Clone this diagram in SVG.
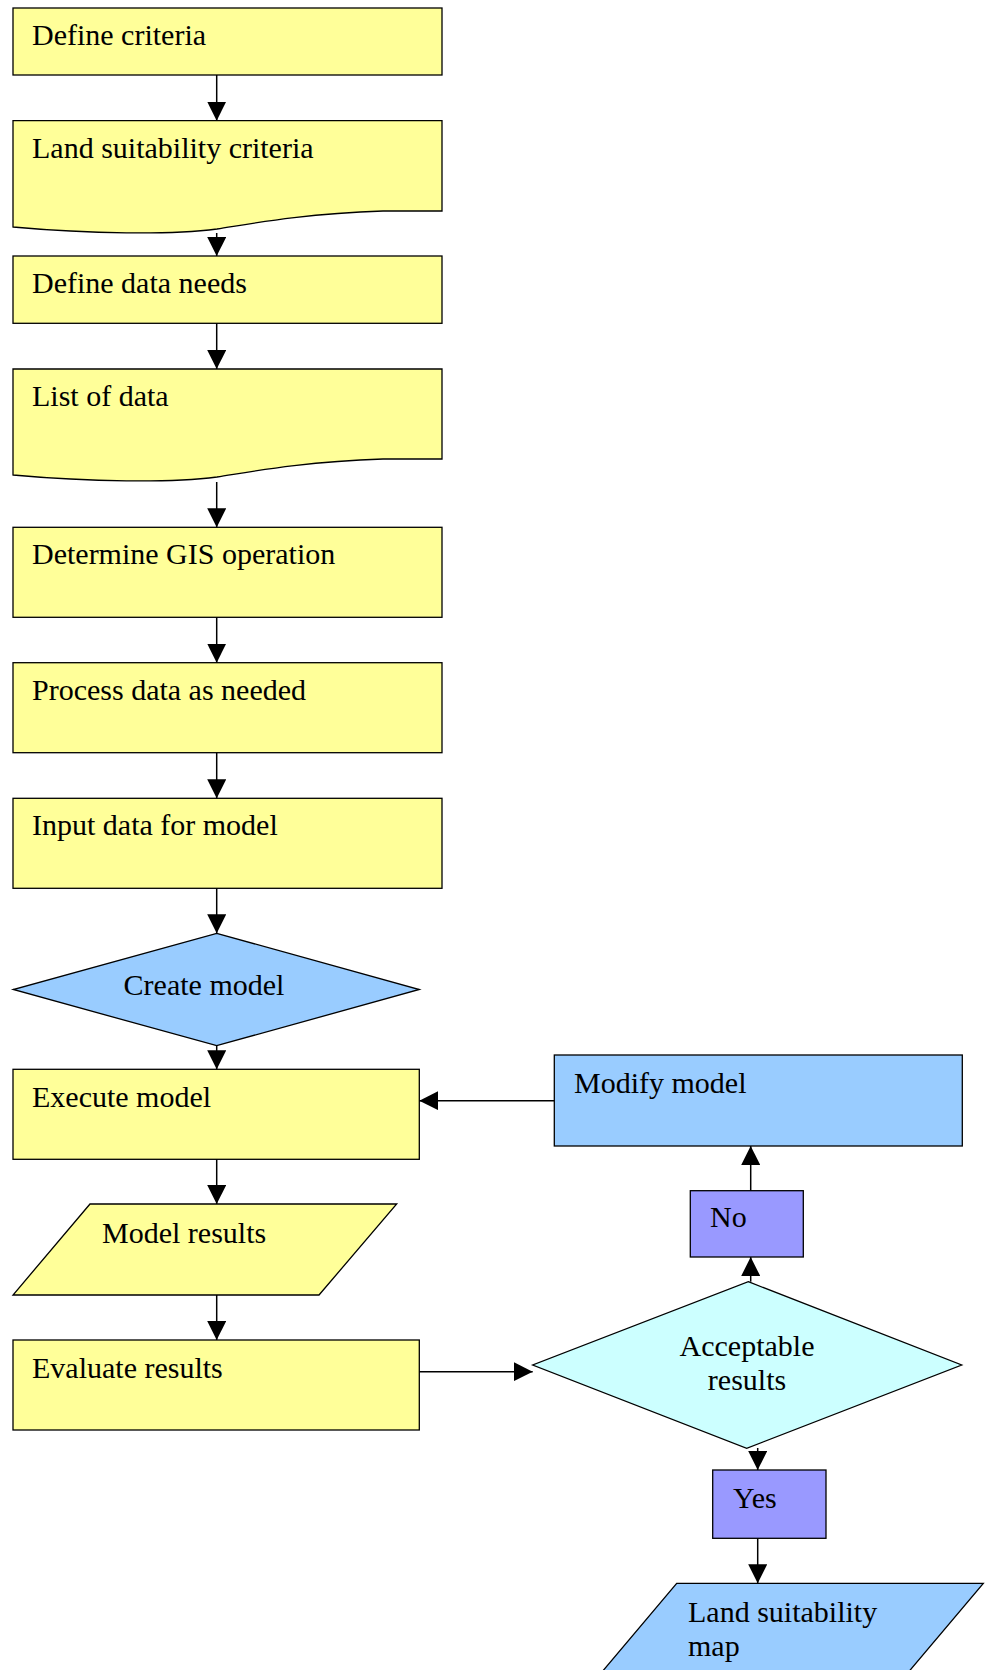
<svg xmlns="http://www.w3.org/2000/svg" width="987" height="1670" viewBox="0 0 987 1670">
<style>
.n{stroke:#000;stroke-width:1.3}
.y{fill:#FFFF99}.b{fill:#99CCFF}.c{fill:#CCFFFF}.p{fill:#9999FF}
text{font-family:"Liberation Serif","Times New Roman",serif;font-size:30px;fill:#000}
.e line{stroke:#000;stroke-width:1.5}
</style>
<defs>
<marker id="ah" markerWidth="19" markerHeight="19" viewBox="0 0 19 19" refX="19" refY="9.5" orient="auto" markerUnits="userSpaceOnUse">
<path d="M0,0 L19,9.5 L0,19 Z" fill="#000"/>
</marker>
</defs>
<rect width="987" height="1670" fill="#fff"/>
<g id="n1"><rect class="n y" x="13" y="8" width="429" height="67"/><text x="32" y="45">Define criteria</text></g>
<g id="n2"><path class="n y" d="M13,120.7 H442 V211 L383,211 C300,214 250,224 217,229 C170,235 90,234 13,227 Z"/><text x="32" y="158">Land suitability criteria</text></g>
<g id="n3"><rect class="n y" x="13" y="256" width="429" height="67.3"/><text x="32" y="293">Define data needs</text></g>
<g id="n4"><path class="n y" d="M13,369 H442 V459 L383,459 C300,462 250,472 217,477 C170,483 90,482 13,475 Z"/><text x="32" y="406">List of data</text></g>
<g id="n5"><rect class="n y" x="13" y="527.3" width="429" height="90"/><text x="32" y="564">Determine GIS operation</text></g>
<g id="n6"><rect class="n y" x="13" y="662.7" width="429" height="90"/><text x="32" y="700">Process data as needed</text></g>
<g id="n7"><rect class="n y" x="13" y="798.3" width="429" height="90"/><text x="32" y="835">Input data for model</text></g>
<g id="n8"><path class="n b" d="M216.7,933.3 L419.3,989.5 L216.7,1045.7 L13.3,989.5 Z"/><text x="204" y="995" text-anchor="middle">Create model</text></g>
<g id="n9"><rect class="n y" x="13" y="1069.3" width="406.3" height="90"/><text x="32" y="1107">Execute model</text></g>
<g id="n10"><path class="n y" d="M90,1204 H396.7 L319,1295 H13 Z"/><text x="102" y="1243">Model results</text></g>
<g id="n11"><rect class="n y" x="13" y="1340" width="406.3" height="90"/><text x="32" y="1378">Evaluate results</text></g>
<g id="n12"><rect class="n b" x="554.3" y="1055" width="408" height="91"/><text x="574" y="1093">Modify model</text></g>
<g id="n13"><rect class="n p" x="690.3" y="1190.7" width="113" height="66.3"/><text x="710" y="1227">No</text></g>
<g id="n14"><path class="n c" d="M748.3,1281.7 L961.7,1365 L746.7,1448.3 L532.7,1365 Z"/><text x="747" y="1356" text-anchor="middle">Acceptable</text><text x="747" y="1390" text-anchor="middle">results</text></g>
<g id="n15"><rect class="n p" x="712.7" y="1470" width="113.3" height="68.3"/><text x="733" y="1508">Yes</text></g>
<g id="n16"><path class="n b" d="M676.7,1583.3 H983.3 L906,1675 H599.4 Z"/><text x="688" y="1622">Land suitability</text><text x="688" y="1656">map</text></g>
<g id="edges" class="e">
<line x1="216.7" y1="75" x2="216.7" y2="120.7" marker-end="url(#ah)"/>
<line x1="216.7" y1="233" x2="216.7" y2="256" marker-end="url(#ah)"/>
<line x1="216.7" y1="323.3" x2="216.7" y2="369" marker-end="url(#ah)"/>
<line x1="216.7" y1="482" x2="216.7" y2="527.3" marker-end="url(#ah)"/>
<line x1="216.7" y1="617.3" x2="216.7" y2="662.7" marker-end="url(#ah)"/>
<line x1="216.7" y1="752.7" x2="216.7" y2="798.3" marker-end="url(#ah)"/>
<line x1="216.7" y1="888.3" x2="216.7" y2="933.3" marker-end="url(#ah)"/>
<line x1="216.7" y1="1045.7" x2="216.7" y2="1069.3" marker-end="url(#ah)"/>
<line x1="216.7" y1="1159.3" x2="216.7" y2="1204" marker-end="url(#ah)"/>
<line x1="216.7" y1="1295" x2="216.7" y2="1340" marker-end="url(#ah)"/>
<line x1="419.3" y1="1371.7" x2="532.7" y2="1371.7" marker-end="url(#ah)"/>
<line x1="750.7" y1="1281.7" x2="750.7" y2="1257" marker-end="url(#ah)"/>
<line x1="750.7" y1="1190.7" x2="750.7" y2="1146" marker-end="url(#ah)"/>
<line x1="554.3" y1="1100.7" x2="419.3" y2="1100.7" marker-end="url(#ah)"/>
<line x1="757.7" y1="1448" x2="757.7" y2="1470" marker-end="url(#ah)"/>
<line x1="757.7" y1="1538.3" x2="757.7" y2="1583.3" marker-end="url(#ah)"/>
</g>
</svg>
